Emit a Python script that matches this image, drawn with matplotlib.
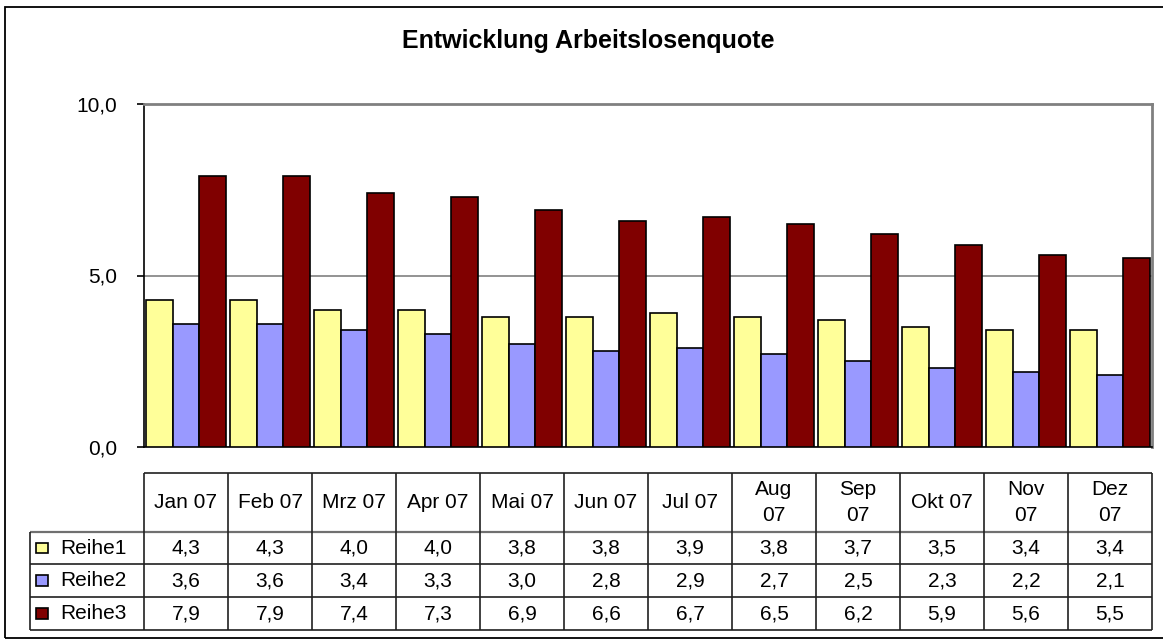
import numpy as np
import matplotlib.pyplot as plt
from matplotlib.patches import Rectangle

plt.rcParams['font.family'] = ['Liberation Sans', 'DejaVu Sans']

# data
months = ["Jan 07", "Feb 07", "Mrz 07", "Apr 07", "Mai 07", "Jun 07",
          "Jul 07", "Aug\n07", "Sep\n07", "Okt 07", "Nov\n07", "Dez\n07"]
series_names = ["Reihe1", "Reihe2", "Reihe3"]
reihe1 = [4.3, 4.3, 4.0, 4.0, 3.8, 3.8, 3.9, 3.8, 3.7, 3.5, 3.4, 3.4]
reihe2 = [3.6, 3.6, 3.4, 3.3, 3.0, 2.8, 2.9, 2.7, 2.5, 2.3, 2.2, 2.1]
reihe3 = [7.9, 7.9, 7.4, 7.3, 6.9, 6.6, 6.7, 6.5, 6.2, 5.9, 5.6, 5.5]
series = [reihe1, reihe2, reihe3]
colors = ["#FFFF99", "#9999FF", "#800000"]
yticks = [0, 5, 10]

W, H = 1163, 641


def fbox(x0, y0, x1, y1):
    # pixel box (top-left origin) -> figure fraction
    return [x0 / W, 1 - y1 / H, (x1 - x0) / W, (y1 - y0) / H]


def fmt(v):
    return f"{v:.1f}".replace(".", ",")


fig = plt.figure(figsize=(W / 100, H / 100), dpi=100)

# outer chart border
fig.patches.append(Rectangle((5 / W, 1 - 638 / H), 1.05, (638 - 7) / H,
                             transform=fig.transFigure, fill=False,
                             edgecolor='black', lw=1.3))

fig.text(588 / W, 1 - 41 / H, "Entwicklung Arbeitslosenquote",
         ha='center', va='center', fontsize=18, fontweight='bold')

# bar chart
ax = fig.add_axes(fbox(144, 104, 1152, 447))
x = np.arange(len(months))
width = 0.32
for k, (vals, col) in enumerate(zip(series, colors)):
    ax.bar(x + (k - 1) * width, vals, width, color=col,
           edgecolor='black', linewidth=1.2, zorder=3)

ax.set_xlim(-0.5, len(months) - 0.5)
ax.set_ylim(0, 10)
ax.set_yticks(yticks)
ax.set_yticklabels([fmt(v) for v in yticks])
ax.yaxis.grid(True, color='#808080', lw=1.2)
ax.set_axisbelow(True)
for s in ['top', 'right']:
    ax.spines[s].set_color('#808080')
    ax.spines[s].set_linewidth(2)
for s in ['left', 'bottom']:
    ax.spines[s].set_color('black')
    ax.spines[s].set_linewidth(1.2)
ax.tick_params(axis='y', length=5, width=1.2, pad=14, labelsize=15)
ax.tick_params(axis='x', bottom=False, labelbottom=False)

# data table
n = len(months)
lw_col = 114 / 84
hh = 59 / 33
tax = fig.add_axes(fbox(30, 473, 1152, 630))
tax.set_xlim(-lw_col, n)
tax.set_ylim(-3, hh)
tax.axis('off')

line_kw = dict(color='#202020', lw=1.2, clip_on=False)
tax.hlines(hh, 0, n, **line_kw)
tax.hlines(0, -lw_col, n, color='#707070', lw=1.6, clip_on=False)
tax.hlines([-1, -2, -3], -lw_col, n, **line_kw)
tax.vlines(np.arange(n + 1), -3, hh, **line_kw)
tax.vlines(-lw_col, -3, 0, **line_kw)

tsize = 15
for i, m in enumerate(months):
    tax.text(i + 0.5, hh / 2, m, ha='center', va='center',
             fontsize=tsize, linespacing=1.45)

for r, (name, vals, col) in enumerate(zip(series_names, series, colors)):
    yc = -r - 0.5
    tax.add_patch(Rectangle((-lw_col + 6 / 84, yc - 5.5 / 33), 12 / 84, 11 / 33,
                            facecolor=col, edgecolor='black', lw=1.2,
                            clip_on=False))
    tax.text(-lw_col + 30 / 84, yc, name, ha='left', va='center', fontsize=tsize)
    for i, v in enumerate(vals):
        tax.text(i + 0.5, yc, fmt(v), ha='center', va='center', fontsize=tsize)

fig.savefig("out.png", dpi=100)
